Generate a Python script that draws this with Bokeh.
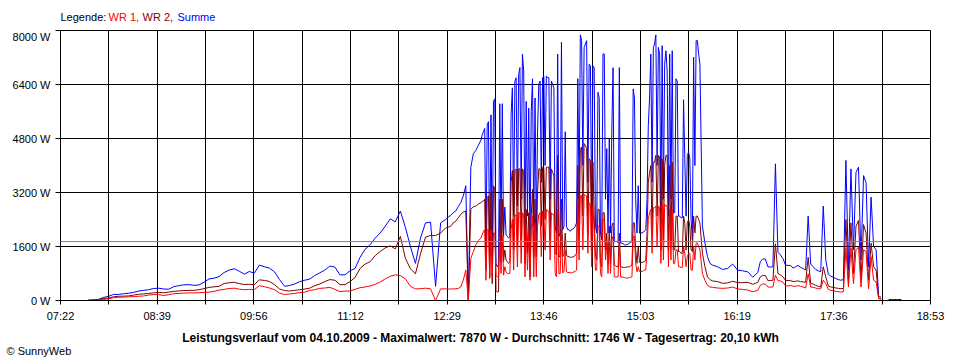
import numpy as np
from bokeh.plotting import figure
from bokeh.models import FixedTicker, Span, Range1d
from bokeh.layouts import column
from bokeh.core.properties import value
from bokeh.embed import file_html
from bokeh.resources import INLINE

nan = float("nan")

# ---------------- data (minutes since midnight, Watt) ----------------
t_seg1 = np.arange(464, 749, 4)    # 07:44 .. 12:28
t_seg2a = np.arange(750, 776, 2)   # 12:30 .. 12:54
t_seg2b = np.arange(776, 951, 1)   # 12:56 .. 15:50 (dense part)
t_seg2c = np.arange(952, 961, 2)   # 15:52 .. 16:00
t_seg3 = np.arange(964, 997, 4)    # 16:04 .. 16:36
t_seg4 = np.arange(998, 1111, 2)   # 16:38 .. 18:30
time_min = np.concatenate([t_seg1, t_seg2a, t_seg2b, t_seg2c, t_seg3, t_seg4])

summe = [
    # seg1
    10, 20, 30, 90, 120, 180, 180, 200, 215, 240, 280, 300, 320, 355, 365, 340, 335, 410,
    440, 465, 470, 450, 460, 540, 640, 660, 710, 830, 900, 940, 870, 780, 860, 810, 1050,
    1000, 960, 850, 620, 420, 445, 490, 560, 600, 635, 740, 820, 900, 1020, 990, 760, 760,
    880, 950, 1280, 1520, 1650, 1850, 2000, 2200, 2420, 2330, 2650, 2170, 1600, 1100, 1850,
    2300, 2320, 420, 2300, 2400,
    # seg2a
    2470, 2520, 2600, 2650, 2780, 2900, 3100, 3400, 0, 3950, 4350, 4450, 4600,
    # seg2b
    4750, 4900, 5000, 5100, 1400, 5200, 5300, 1300, 5500, 1200,
    5900, 5975, 1100, 1000, 1050, 5830, 2000, 5830, 1900, 2770,
    1950, 1900, 1850, 1900, 5500, 6300, 2500, 6500, 6600, 2800,
    6700, 6900, 3000, 7300, 6800, 1800, 5900, 2500, 5700, 1500,
    5600, 6570, 2200, 6000, 2000, 5000, 6400, 6500, 3500, 6600,
    6650, 4000, 6650, 6600, 6600, 3000, 6500, 6400, 6300, 2200,
    2000, 7300, 1900, 2000, 7650, 2100, 2200, 5000, 2200, 2100,
    2100, 2050, 2100, 2120, 2150, 2200, 2300, 6570, 3000, 7870,
    7700, 4000, 7500, 7600, 7700, 3500, 7000, 6950, 2500, 6950,
    6900, 2200, 2000, 6170, 6000, 2000, 1800, 7310, 7300, 3000,
    4500, 2000, 4800, 2000, 5000, 6900, 1750, 1750, 1750, 1720,
    6900, 1700, 1700, 1680, 1650, 1650, 1650, 1680, 1700, 1720,
    1750, 6270, 6000, 3000, 2000, 3400, 2000, 2000, 2000, 2030,
    2050, 2100, 3000, 5185, 6000, 7300, 3500, 7500, 7600, 7870,
    4000, 7500, 7300, 2600, 7550, 3000, 7000, 7400, 6800, 2500,
    7300, 3000, 7400, 2600, 2600, 6570, 6500, 2500, 2500, 2450,
    2450, 5950, 4200, 2500, 4300, 4400, 4200, 2400, 1800, 7210,
    4000, 7700, 7700, 7300, 7000,
    # seg2c
    2200, 1700, 1300, 1100, 1050,
    # seg3
    1000, 920, 950, 1080, 900, 880, 850, 690, 830,
    # seg4
    1150, 1235, 1230, 1000, 990, 1000, 4050, 1430, 1350, 1240, 1050, 1040, 1040, 960, 1000,
    1040, 980, 950, 900, 2500, 1080, 1000, 920, 880, 850, 2800, 1200, 780, 720, 690, 650,
    620, 600, 620, 4150, 900, 3900, 1500, 3800, 3950, 1200, 3700, 3500, 1000, 3060, 1600,
    1500, 120, 100, nan, nan, 30, 30, 30, 30, 30, 30,
]

wr2 = [
    # seg1
    5, 10, 20, 60, 70, 110, 125, 130, 135, 160, 185, 195, 210, 225, 240, 230, 250, 270,
    285, 295, 300, 300, 320, 350, 390, 405, 420, 505, 525, 540, 500, 475, 480, 470, 610,
    595, 565, 470, 340, 295, 280, 300, 320, 340, 365, 440, 490, 560, 620, 600, 470, 470,
    560, 680, 950, 1080, 1150, 1330, 1450, 1560, 1620, 1530, 1900, 1250, 940, 790, 1380,
    1880, 1925, 1925, 2000, 2150,
    # seg2a
    2170, 2200, 2300, 2350, 2450, 2550, 2620, 2650, 30, 2700, 2780, 2800, 2860,
    # seg2b
    2900, 2930, 2950, 3000, 900, 3050, 3100, 700, 3200, 500,
    3400, 3300, 300, 250, 260, 3000, 1150, 3000, 1150, 1500,
    1200, 1150, 1100, 1150, 3500, 3850, 1500, 3850, 3900, 1600,
    3900, 3900, 1800, 3900, 3850, 1100, 2700, 1400, 2600, 700,
    2500, 3300, 1300, 3000, 1300, 3200, 3900, 3900, 2200, 3950,
    3950, 2400, 3950, 3950, 3950, 1800, 3900, 3800, 3700, 1400,
    1350, 4300, 1300, 1300, 3000, 1300, 1350, 2000, 1350, 1300,
    1300, 1280, 1280, 1290, 1300, 1350, 1400, 4000, 1800, 4500,
    4550, 2500, 4650, 4600, 4500, 2000, 4200, 4150, 1500, 4100,
    2500, 1300, 1200, 2700, 2700, 1100, 1000, 2600, 2600, 1500,
    2000, 1100, 2200, 1100, 2200, 2300, 1050, 1030, 1000, 1000,
    2000, 990, 990, 985, 980, 985, 990, 995, 1000, 1020,
    1050, 2300, 2300, 1500, 1100, 1600, 1130, 1130, 1130, 1140,
    1150, 1200, 2000, 3500, 3800, 4000, 2000, 4100, 4100, 4300,
    2500, 4300, 4250, 1500, 4200, 1800, 4000, 4300, 4300, 1500,
    4000, 1700, 4100, 1500, 1500, 2500, 2500, 1450, 1450, 1400,
    1400, 2500, 2300, 1500, 2300, 2400, 2200, 1500, 1450, 2500,
    2000, 2500, 2500, 2400, 2300,
    # seg2c
    1400, 1000, 700, 620, 580,
    # seg3
    560, 510, 520, 570, 530, 530, 540, 480, 540,
    # seg4
    700, 740, 740, 590, 590, 600, 1680, 800, 760, 700, 600, 590, 590, 560, 570,
    580, 560, 550, 540, 1280, 500, 490, 450, 420, 400, 1000, 700, 430, 400, 390, 370,
    360, 350, 360, 2400, 500, 2300, 800, 2200, 2370, 600, 2250, 2000, 600, 1700, 1000,
    900, 60, 50, nan, nan, nan, nan, nan, nan, nan, nan,
]

wr1 = [
    # seg1
    5, 10, 10, 30, 50, 80, 95, 100, 110, 115, 125, 135, 160, 175, 175, 150, 170, 200,
    210, 220, 225, 225, 230, 240, 250, 270, 310, 330, 355, 365, 335, 320, 330, 320, 440,
    410, 370, 320, 220, 175, 195, 210, 235, 245, 300, 320, 360, 370, 390, 330, 265, 280,
    280, 330, 380, 400, 430, 480, 550, 640, 720, 760, 740, 640, 420, 345, 350,
    365, 345, 0, 345, 345,
    # seg2a
    340, 340, 345, 345, 360, 400, 600, 900, 0, 1250, 1450, 1650, 1780,
    # seg2b
    1850, 1950, 2050, 2100, 600, 2100, 2100, 650, 2100, 700,
    2000, 2000, 750, 700, 700, 1900, 800, 1900, 750, 1000,
    850, 800, 800, 800, 2100, 2400, 900, 2500, 2550, 1000,
    2600, 2600, 1100, 2600, 2550, 700, 2100, 900, 2000, 600,
    2100, 2500, 700, 2300, 700, 2200, 2550, 2600, 1300, 2650,
    2650, 1500, 2700, 2650, 2650, 1200, 2600, 2550, 2550, 800,
    700, 2700, 800, 800, 2100, 820, 850, 1500, 850, 830,
    830, 820, 820, 830, 850, 870, 900, 3000, 1200, 3100,
    3120, 1500, 3150, 3100, 3100, 1400, 2900, 2850, 1000, 2800,
    2000, 900, 900, 2200, 2200, 800, 700, 2400, 2400, 1200,
    1700, 800, 1800, 800, 1800, 1900, 700, 700, 700, 700,
    1700, 700, 700, 690, 680, 670, 660, 670, 680, 690,
    700, 1900, 1900, 1100, 850, 1000, 860, 860, 860, 880,
    900, 900, 1500, 2400, 2600, 2700, 1400, 2750, 2750, 2800,
    1600, 2800, 2750, 1100, 2850, 1200, 2850, 2800, 2800, 1000,
    2700, 1200, 2700, 1100, 1100, 1500, 1500, 1000, 1000, 980,
    980, 1600, 1400, 1000, 1300, 1400, 1400, 900, 900, 1600,
    1200, 1700, 1700, 1600, 1500,
    # seg2c
    800, 600, 450, 400, 390,
    # seg3
    370, 360, 370, 400, 340, 330, 310, 260, 300,
    # seg4
    450, 490, 490, 400, 395, 400, 750, 590, 580, 540, 440, 430, 450, 420, 420,
    440, 420, 400, 370, 790, 400, 390, 370, 350, 345, 600, 500, 330, 300, 290, 270,
    260, 250, 260, 1550, 400, 1550, 500, 1500, 1580, 400, 1500, 1450, 350, 1300, 600,
    550, 60, 40, nan, nan, nan, nan, nan, nan, nan, nan,
]

assert len(summe) == len(time_min) == len(wr1) == len(wr2), (len(time_min), len(summe), len(wr1), len(wr2))

durchschnitt = 1746
y_ticks = [0, 1600, 3200, 4800, 6400, 8000]
x_tick_labels = ["07:22", "", "08:39", "", "09:56", "", "11:12", "", "12:29", "",
                 "13:46", "", "15:03", "", "16:19", "", "17:36", "", "18:53"]
x_start_sec = 7 * 3600 + 22 * 60
x_step_sec = 2304
legend_texts = ["Legende:", "WR 1,", "WR 2,", "Summe"]
legend_colors = ["black", "#FF0000", "#800000", "#0000FF"]
title_text = ("Leistungsverlauf vom 04.10.2009 - Maximalwert: 7870 W - "
              "Durchschnitt: 1746 W - Tagesertrag: 20,10 kWh")
credit_text = "© SunnyWeb"

FONT = "Liberation Sans"
W = 960


def text_strip(height):
    f = figure(width=W, height=height, output_backend="svg", toolbar_location=None,
               x_range=Range1d(0, W), y_range=Range1d(0, height),
               x_axis_type=None, y_axis_type=None, frame_align=False,
               min_border_left=0, min_border_right=0, min_border_top=0, min_border_bottom=0)
    f.grid.visible = False
    f.outline_line_color = None
    f.background_fill_color = "white"
    f.border_fill_color = "white"
    return f


# ---- legend strip (top) ----
top = text_strip(30)
top.text(x=[60, 108, 142, 177], y=[14] * 4, text=legend_texts, text_color=legend_colors,
         text_font=value(FONT), text_font_size="11px", text_baseline="middle", text_align="left")

# ---- main chart ----
t_sec = time_min * 60
x_ticks = [x_start_sec + x_step_sec * k for k in range(len(x_tick_labels))]

p = figure(width=W, height=297, output_backend="svg", toolbar_location=None,
           x_range=Range1d(x_ticks[0], x_ticks[-1]), y_range=Range1d(0, 8000),
           frame_align=False,
           min_border_left=60, min_border_right=30, min_border_top=0, min_border_bottom=27)
p.outline_line_color = "black"
p.outline_line_width = 1
p.background_fill_color = "white"
p.border_fill_color = "white"

for ax in (p.xaxis[0], p.yaxis[0]):
    ax.axis_line_color = "black"
    ax.major_tick_line_color = "black"
    ax.major_tick_in = 0
    ax.minor_tick_line_color = None
    ax.major_label_text_font = FONT
    ax.major_label_text_font_size = "11px"
    ax.major_label_text_color = "black"

p.xaxis.ticker = FixedTicker(ticks=x_ticks)
p.xaxis.major_label_overrides = {x: lab for x, lab in zip(x_ticks, x_tick_labels)}
p.xaxis.major_tick_out = 4
p.xaxis.major_label_standoff = 5

p.yaxis.ticker = FixedTicker(ticks=y_ticks)
p.yaxis.major_label_overrides = {v: f"{v} W" for v in y_ticks}
p.yaxis.major_tick_out = 5
p.yaxis.major_label_standoff = 5

p.xgrid.ticker = FixedTicker(ticks=x_ticks)
p.ygrid.ticker = FixedTicker(ticks=y_ticks)
for g in (p.xgrid[0], p.ygrid[0]):
    g.grid_line_color = "black"
    g.grid_line_width = 1
    g.grid_line_alpha = 1

p.add_layout(Span(location=durchschnitt, dimension="width", line_color="#808080", line_width=1))

p.line(t_sec, summe, line_color="#0000FF", line_width=1)
p.line(t_sec, wr2, line_color="#800000", line_width=1)
p.line(t_sec, wr1, line_color="#FF0000", line_width=1)

# ---- footer strip ----
bottom = text_strip(33)
bottom.text(x=[480], y=[23], text=[title_text], text_color="black",
            text_font=value(FONT), text_font_size="12px", text_font_style="bold",
            text_baseline="middle", text_align="center")
bottom.text(x=[6], y=[10], text=[credit_text], text_color="black",
            text_font=value(FONT), text_font_size="11px",
            text_baseline="middle", text_align="left")

layout = column(top, p, bottom, spacing=0)
open("out.html", "w").write(file_html(layout, INLINE))
